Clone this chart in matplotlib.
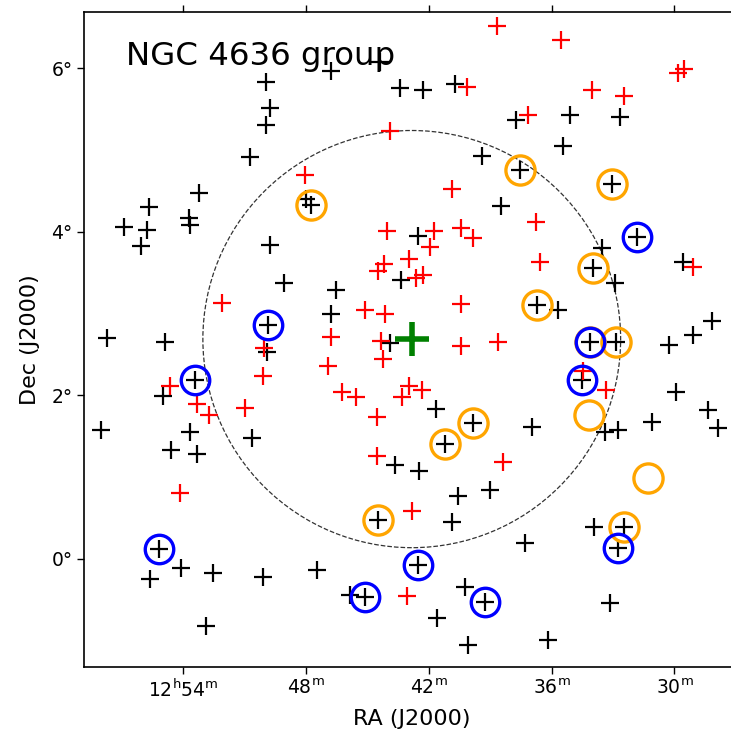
import matplotlib
matplotlib.use("Agg")
import matplotlib.pyplot as plt
from matplotlib.patches import Ellipse

# RA in minutes past 12h, Dec in degrees
red_ra = [38.68, 35.56, 29.82, 29.54, 40.13, 34.03, 32.47, 43.89, 37.15, 48.04,
          40.85, 36.76, 36.57, 29.10, 52.10, 44.02, 41.74, 40.44, 39.83, 41.94,
          42.96, 44.17, 44.46, 42.62, 42.27, 40.44, 45.11, 44.14, 46.79, 44.35,
          44.25, 40.43, 38.60, 46.91, 46.25, 45.57, 43.32, 42.96, 42.32, 44.54,
          44.54, 38.36, 50.04, 50.09, 50.97, 53.32, 54.63, 52.73, 54.15, 42.82,
          43.06, 33.35, 34.47]
red_dec = [6.51, 6.34, 5.94, 5.99, 5.77, 5.73, 5.66, 5.23, 5.43, 4.69,
           4.52, 4.12, 3.63, 3.57, 3.13, 4.01, 4.01, 4.05, 3.92, 3.81,
           3.67, 3.61, 3.52, 3.43, 3.47, 3.12, 3.04, 3.00, 2.71, 2.67,
           2.44, 2.60, 2.65, 2.36, 2.04, 1.98, 1.98, 2.11, 2.06, 1.73,
           1.26, 1.19, 2.58, 2.24, 1.85, 1.89, 2.11, 1.76, 0.81, 0.59,
           -0.45, 2.07, 2.30]

black_ra = [47.76, 47.99, 37.54, 38.49, 42.54, 43.36, 46.54, 46.79, 43.89, 41.66,
            39.85, 41.21, 43.65, 42.48, 36.96, 49.07, 39.40, 36.71, 46.77, 44.38,
            49.95, 49.75, 49.95, 43.40, 42.28, 40.72, 37.74, 35.10, 32.66, 35.45,
            50.73, 55.66, 55.76, 56.88, 56.05, 53.22, 53.71, 53.66, 49.75, 54.88,
            57.71, 49.90, 49.85, 53.41, 34.13, 32.86, 33.54, 32.91, 35.69, 29.59,
            30.27, 29.10, 28.17, 29.93, 28.37, 27.88, 31.10, 32.76, 33.40, 54.98,
            53.66, 53.32, 54.59, 50.63, 58.00, 39.01, 40.57, 40.87, 44.48, 37.30,
            33.93, 32.47, 32.76, 33.15, 36.18, 40.08, 41.60, 40.23, 42.53, 45.11,
            45.85, 39.25, 47.46, 50.09, 52.54, 54.10, 55.61, 55.17, 52.88, 31.83,
            33.05, 33.98, 34.52]
black_dec = [4.33, 4.40, 4.76, 4.32, 3.95, 3.41, 3.29, 3.00, 2.64, 1.83,
             1.66, 1.41, 1.15, 1.08, 1.61, 3.37, 4.93, 3.11, 5.97, 6.08,
             5.83, 5.51, 5.31, 5.76, 5.73, 5.81, 5.37, 5.43, 5.40, 5.05,
             4.91, 4.30, 4.02, 4.06, 3.83, 4.47, 4.17, 4.08, 3.84, 2.65,
             2.70, 2.53, 2.86, 2.19, 2.65, 2.65, 3.80, 3.37, 3.04, 3.63,
             2.62, 2.74, 2.91, 2.04, 1.82, 1.60, 1.67, 1.58, 1.55, 1.99,
             1.55, 1.28, 1.33, 1.48, 1.58, 0.84, 0.77, 0.45, 0.48, 0.20,
             0.39, 0.39, 0.13, -0.54, -0.99, -1.05, -0.72, -0.34, -0.07, -0.46,
             -0.44, -0.53, -0.13, -0.22, -0.17, -0.11, -0.24, 0.12, -0.82, 3.94,
             4.58, 3.56, 2.19]

orange_ra = [47.76, 37.54, 33.05, 33.98, 36.71, 34.13, 32.86, 34.18, 31.29, 39.85,
             41.21, 44.48, 32.47]
orange_dec = [4.33, 4.76, 4.58, 3.56, 3.11, 2.65, 2.65, 1.76, 0.99, 1.66,
              1.41, 0.48, 0.39]

blue_ra = [31.83, 49.85, 53.41, 34.13, 34.52, 55.17, 42.53, 45.11, 39.25, 32.76]
blue_dec = [3.94, 2.86, 2.19, 2.65, 2.19, 0.12, -0.07, -0.46, -0.53, 0.13]

center_ra, center_dec = 42.83, 2.688
radius_deg = 2.55

xtick_vals = [54, 48, 42, 36, 30]
xtick_labels = [r'12$^\mathrm{h}$54$^\mathrm{m}$', r'48$^\mathrm{m}$', r'42$^\mathrm{m}$',
                r'36$^\mathrm{m}$', r'30$^\mathrm{m}$']
ytick_vals = [0, 2, 4, 6]
ytick_labels = ['0°', '2°', '4°', '6°']

W, H = 731, 733
fig = plt.figure(figsize=(W / 100, H / 100), dpi=100)
left, right, top, bottom = 84.3, 739.0, 12.3, 666.7
ax = fig.add_axes([left / W, 1 - bottom / H, (right - left) / W, (bottom - top) / H])

ax.plot(black_ra, black_dec, '+', color='black', ms=12.5, mew=1.6, ls='none', zorder=3)
ax.plot(red_ra, red_dec, '+', color='red', ms=12.5, mew=1.6, ls='none', zorder=3)
ax.plot(orange_ra, orange_dec, 'o', mfc='none', mec='orange', ms=21, mew=2.4, ls='none', zorder=4)
ax.plot(blue_ra, blue_dec, 'o', mfc='none', mec='blue', ms=20.5, mew=2.4, ls='none', zorder=4)
ax.plot([center_ra], [center_dec], '+', color='green', ms=24, mew=4, ls='none', zorder=5)

ell = Ellipse((center_ra, center_dec), width=2 * radius_deg * 4, height=2 * radius_deg,
              fill=False, ls='--', lw=0.9, ec='#333333', zorder=2)
ax.add_patch(ell)

ax.set_xlim(58.82, 26.85)
ax.set_ylim(-1.317, 6.683)
ax.set_xticks(xtick_vals)
ax.set_xticklabels(xtick_labels)
ax.set_yticks(ytick_vals)
ax.set_yticklabels(ytick_labels)
ax.tick_params(axis='both', direction='out', length=5, width=1, labelsize=13.5,
               top=True, right=True, labeltop=False, labelright=False)
for s in ax.spines.values():
    s.set_linewidth(1.2)

ax.set_xlabel('RA (J2000)', fontsize=16, labelpad=6)
ax.set_ylabel('Dec (J2000)', fontsize=16, labelpad=8)
ax.text((126 - left) / (right - left), (bottom - 65) / (bottom - top), 'NGC 4636 group',
        transform=ax.transAxes, fontsize=23.3, va='baseline', ha='left')

fig.savefig('out.png', dpi=100)
